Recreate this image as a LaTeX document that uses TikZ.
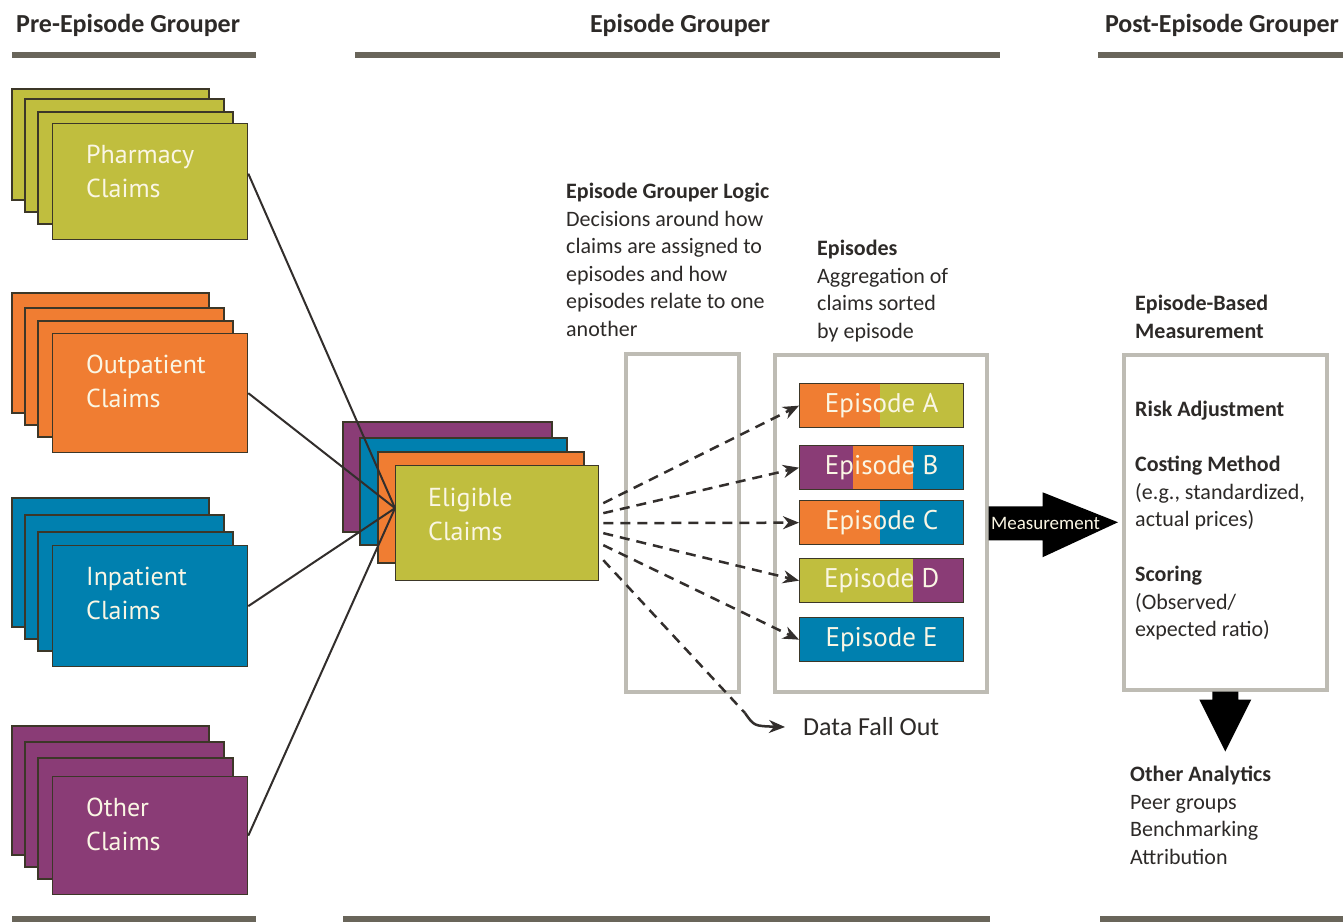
\documentclass[tikz,border=0pt]{standalone}
\usepackage{fontspec}
\setmainfont{Carlito}
\newfontfamily\cardfont{PT Sans}
\usetikzlibrary{arrows.meta,calc}
\definecolor{cgreen}{RGB}{192,190,62}
\definecolor{corange}{RGB}{240,125,50}
\definecolor{cblue}{RGB}{0,128,175}
\definecolor{cpurple}{RGB}{138,60,118}
\definecolor{cgray}{RGB}{190,188,180}
\definecolor{cline}{RGB}{105,101,90}
\definecolor{cedge}{RGB}{60,55,40}
\definecolor{ctext}{RGB}{45,42,40}
\definecolor{ccream}{RGB}{250,246,228}
\definecolor{cline2}{RGB}{50,46,44}
\tikzset{
  hdr/.style={font=\fontsize{26}{30}\selectfont\bfseries, text=ctext, inner sep=0},
  hline/.style={line width=6pt, draw=cline},
  stackcard/.style={draw=cedge, line width=1.3pt},
  frontcard/.style={draw=cedge, line width=1.3pt, anchor=north west, inner sep=0},
  cardlabel/.style={font=\cardfont\fontsize{26}{34}\selectfont, text=ccream, align=left, anchor=north west, inner sep=0},
  feed/.style={draw=cline2, line width=2pt},
  graybox/.style={draw=cgray, line width=3.5pt, anchor=north west, inner sep=0},
  epbar/.style={draw=cedge, line width=1.3pt, anchor=north west, inner sep=0, minimum width=164pt, minimum height=44pt, font=\cardfont\fontsize{27}{30}\selectfont, text=ccream},
  seg2/.style n args={3}{path picture={
      \fill[#1] (path picture bounding box.north west) rectangle ([xshift=#2]path picture bounding box.south west);
      \fill[#3] ([xshift=#2]path picture bounding box.north west) rectangle (path picture bounding box.south east);}},
  seg3/.style n args={5}{path picture={
      \fill[#1] (path picture bounding box.north west) rectangle ([xshift=#2]path picture bounding box.south west);
      \fill[#3] ([xshift=#2]path picture bounding box.north west) rectangle ([xshift=#4]path picture bounding box.south west);
      \fill[#5] ([xshift=#4]path picture bounding box.north west) rectangle (path picture bounding box.south east);}},
  dashline/.style={draw=cline2, line width=2.5pt, dash pattern=on 10pt off 7pt},
  dasharrow/.style={dashline, -{Stealth[length=16pt,width=13pt]}},
  lbl/.style={font=\fontsize{22}{27.5}\selectfont, text=ctext, align=left, anchor=north west, inner sep=0},
}
\newcommand{\cardstack}[8]{%
  \pgfmathsetmacro{\csA}{#7-39}%
  \pgfmathsetmacro{\csB}{#7-27}%
  \pgfmathsetmacro{\csC}{#7-15}%
  \pgfmathsetmacro{\csH}{#7-#6}%
  \path[stackcard, fill=#2] (12,#3) rectangle (209,\csA);
  \path[stackcard, fill=#2] (25,#4) rectangle (224,\csB);
  \path[stackcard, fill=#2] (38,#5) rectangle (233,\csC);
  \node[frontcard, fill=#2, minimum width=195pt, minimum height=\csH pt] (#1) at (52,#6) {};
  \node[cardlabel] (#1txt) at ([xshift=34pt,yshift=-22pt]#1.north west) {#8};
}
\begin{document}
\begin{tikzpicture}[x=1pt,y=-1pt]
\useasboundingbox (0,0) rectangle (1343,922);
\fill[white] (0,0) rectangle (1343,922);

% headers
\node[hdr, anchor=west] (pre) at (16,25) {Pre-Episode Grouper};
\node[hdr] (mid) at (680,25) {Episode Grouper};
\node[hdr, anchor=east] (post) at (1339,25) {Post-Episode Grouper};
\draw[hline] (12,55) -- (256,55);
\draw[hline] (355,55) -- (1000,55);
\draw[hline] (1098,55) -- (1343,55);
\draw[hline] (12,919) -- (256,919);
\draw[hline] (343,919) -- (990,919);
\draw[hline] (1100,919) -- (1343,919);

% claim stacks
\cardstack{pharm}{cgreen}{89}{99}{112}{123}{239}{Pharmacy\\Claims}
\cardstack{outp}{corange}{293}{308}{321}{333}{452}{Outpatient\\Claims}
\cardstack{inp}{cblue}{498}{515}{532}{545}{666}{Inpatient\\Claims}
\cardstack{oth}{cpurple}{726}{742}{758}{776}{894}{Other\\Claims}

% eligible stack
\path[stackcard, fill=cpurple] (343,422) rectangle (552,532);
\path[stackcard, fill=cblue] (360,438) rectangle (567,545);
\path[stackcard, fill=corange] (378,452) rectangle (584,563);
\node[frontcard, fill=cgreen, minimum width=203pt, minimum height=115pt] (elig) at (395,465) {};
\node[cardlabel] (eligtxt) at ([xshift=33pt,yshift=-23pt]elig.north west) {Eligible\\Claims};

% feed lines
\draw[feed] ([yshift=8pt]pharm.east) -- ([yshift=15pt]elig.west);
\draw[feed] (outp.east) -- ([yshift=15pt]elig.west);
\draw[feed] (inp.east) -- ([yshift=15pt]elig.west);
\draw[feed] (oth.east) -- ([yshift=15pt]elig.west);

% gray boxes
\node[graybox, minimum width=113pt, minimum height=338pt] (logic) at (624,352) {};
\node[graybox, minimum width=212pt, minimum height=337pt] (epbox) at (773,353) {};
\node[graybox, minimum width=203pt, minimum height=335pt] (mbox) at (1122,353) {};

% episode bars
\node[epbar, seg2={corange}{80pt}{cgreen}] (epA) at (799,383) {Episode A};
\node[epbar, seg3={cpurple}{53pt}{corange}{113pt}{cblue}] (epB) at (799,445) {Episode B};
\node[epbar, seg2={corange}{80pt}{cblue}] (epC) at (799,500) {Episode C};
\node[epbar, seg2={cgreen}{113pt}{cpurple}] (epD) at (799,558) {Episode D};
\node[epbar, fill=cblue] (epE) at (799,617) {Episode E};

% dashed arrows
\draw[dasharrow] ([shift={(4pt,20pt)}]elig.east) -- (epA.west);
\draw[dasharrow] ([shift={(4pt,10pt)}]elig.east) -- (epB.west);
\draw[dasharrow] ([shift={(4pt,0pt)}]elig.east) -- (epC.west);
\draw[dasharrow] ([shift={(4pt,-10pt)}]elig.east) -- (epD.west);
\draw[dasharrow] ([shift={(4pt,-22pt)}]elig.east) -- (epE.west);
\coordinate (fobend) at (745,713);
\node[font=\fontsize{26}{30}\selectfont, text=ctext, inner sep=0, anchor=west] (fall) at (803,727) {Data Fall Out};
\draw[dashline] ([shift={(4pt,-37pt)}]elig.east) -- (fobend);
\draw[draw=cline2, line width=2.5pt, -{Stealth[length=16pt,width=13pt]}] (fobend) .. controls (754,726) .. ([xshift=-18pt]fall.west);

% labels
\node[lbl] (logiclbl) at (566,183) {\textbf{Episode Grouper Logic}\\Decisions around how\\claims are assigned to\\episodes and how\\episodes relate to one\\another};
\node[lbl] (eplbl) at (817,240) {\textbf{Episodes}\\Aggregation of\\claims sorted\\by episode};
\node[lbl] (mlbl) at (1135,295) {\textbf{Episode-Based}\\\textbf{Measurement}};
\node[lbl] (mtxt) at (1135,401) {\textbf{Risk Adjustment}\\[27.5pt]\textbf{Costing Method}\\(e.g., standardized,\\actual prices)\\[27.5pt]\textbf{Scoring}\\(Observed/\\expected ratio)};
\node[lbl] (oa) at (1130,766) {\textbf{Other Analytics}\\Peer groups\\Benchmarking\\Attribution};

% measurement arrow
\fill[black] ([yshift=17pt]epbox.east) -- ([xshift=54pt,yshift=17pt]epbox.east) -- ([xshift=54pt,yshift=31pt]epbox.east) -- ([xshift=-4pt]mbox.west) -- ([xshift=54pt,yshift=-34pt]epbox.east) -- ([xshift=54pt,yshift=-17pt]epbox.east) -- ([yshift=-17pt]epbox.east) -- cycle;
\node[font=\fontsize{19}{22}\selectfont, text=ccream, inner sep=0] (mtext) at ([xshift=57pt]epbox.east) {Measurement};

% down arrow
\fill[black] ([xshift=-13pt]mbox.south) -- ([xshift=-13pt,yshift=-8pt]mbox.south) -- ([xshift=-26pt,yshift=-8pt]mbox.south) -- ([yshift=-60pt]mbox.south) -- ([xshift=26pt,yshift=-8pt]mbox.south) -- ([xshift=13pt,yshift=-8pt]mbox.south) -- ([xshift=13pt]mbox.south) -- cycle;
\end{tikzpicture}
\end{document}
